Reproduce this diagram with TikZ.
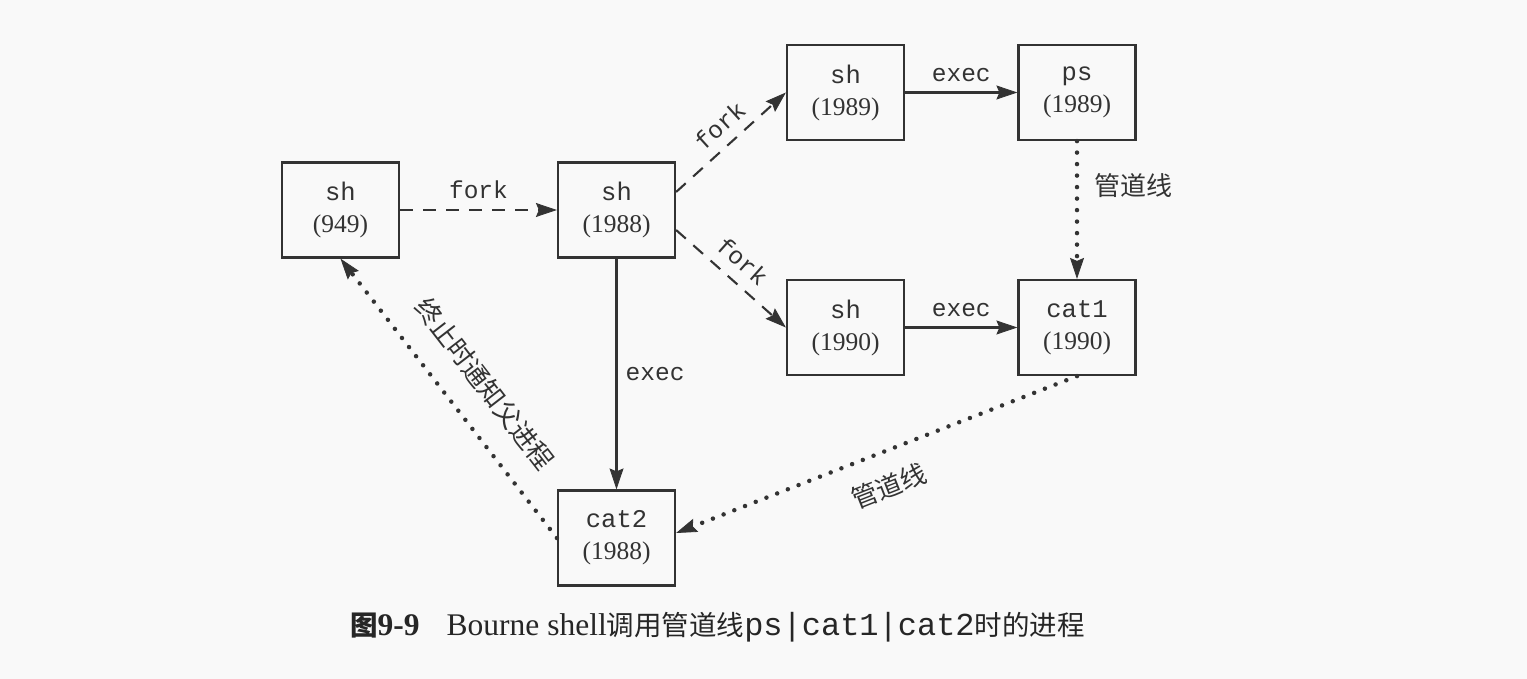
\documentclass[tikz,border=0pt]{standalone}
\usepackage{fontspec}
\setmainfont{Liberation Serif}
\setmonofont{Liberation Mono}
\newfontfamily\cjk{Noto Sans CJK SC}
\usetikzlibrary{arrows.meta}
\definecolor{ink}{HTML}{333333}
\definecolor{bg}{HTML}{F9F9F9}
\begin{document}
\begin{tikzpicture}[x=1pt,y=-1pt,
  proc/.style={draw=ink, line width=2.2pt, minimum width=117pt, minimum height=95pt,
    inner sep=0pt, align=center, text=ink, font=\fontsize{25.5}{32}\selectfont},
  tipstyle/.style={-{Stealth[length=21pt,width=14pt,inset=3pt,line width=0.8pt]}},
  solidedge/.style={draw=ink, line width=2.3pt, tipstyle},
  dashededge/.style={draw=ink, line width=2.1pt, dash pattern=on 13pt off 10pt, tipstyle},
  dottededge/.style={draw=ink, line width=4.5pt, line cap=round, dash pattern=on 0pt off 11.5pt, tipstyle},
  lbl/.style={text=ink, font=\fontsize{24.5}{28}\selectfont\ttfamily, inner sep=0pt},
  cjklbl/.style={text=ink, font=\fontsize{26}{28}\selectfont\cjk, inner sep=0pt}]
\fill[bg] (0,0) rectangle (1527,679);
\useasboundingbox (0,0) rectangle (1527,679);

\node[proc] (sh949)  at (340.5,210) {\texttt{sh}\\(949)};
\node[proc] (sh1988) at (616.5,210) {\texttt{sh}\\(1988)};
\node[proc] (sh1989) at (845.5,92.5) {\texttt{sh}\\(1989)};
\node[proc] (ps)     at (1077,92.5) {\texttt{ps}\\(1989)};
\node[proc] (sh1990) at (845.5,327.5) {\texttt{sh}\\(1990)};
\node[proc] (cat1)   at (1077,327.5) {\texttt{cat1}\\(1990)};
\node[proc] (cat2)   at (616.5,538) {\texttt{cat2}\\(1988)};

\draw[dashededge] (sh949) -- node[lbl, above=10pt] {fork} (sh1988);
\draw[dashededge] ([yshift=18pt]sh1988.east) -- node[lbl, sloped, pos=0.52, above=10pt] {fork} (sh1989.west);
\draw[dashededge] ([yshift=-20pt]sh1988.east) -- node[lbl, sloped, pos=0.48, above=11pt] {fork} (sh1990.west);
\draw[solidedge] (sh1989) -- node[lbl, above=10pt] {exec} (ps);
\draw[solidedge] (sh1990) -- node[lbl, above=10pt] {exec} (cat1);
\draw[solidedge] (sh1988) -- node[lbl, right=8pt] {exec} (cat2);
\draw[dottededge] (ps) -- node[cjklbl, pos=0.32, right=15pt] {管道线} (cat1);
\draw[dottededge] (cat1.south) -- node[cjklbl, sloped, pos=0.5, below=20pt] {管道线} ([yshift=5pt]cat2.east);
\draw[dottededge] (cat2.west) -- node[cjklbl, sloped, pos=0.47, above=23pt] {终止时通知父进程} (sh949.south);

\node[anchor=west, inner sep=0pt, text=black!85] (caption) at (350,627)
  {\fontsize{31.5}{36}\selectfont{\cjk\fontsize{27.5}{30}\selectfont\bfseries 图}\textbf{9-9}\hspace{27pt}Bourne shell{\cjk\fontsize{27.5}{30}\selectfont 调用管道线}{\ttfamily\fontsize{32}{36}\selectfont ps|cat1|cat2}{\cjk\fontsize{27.5}{30}\selectfont 时的进程}};
\end{tikzpicture}
\end{document}
